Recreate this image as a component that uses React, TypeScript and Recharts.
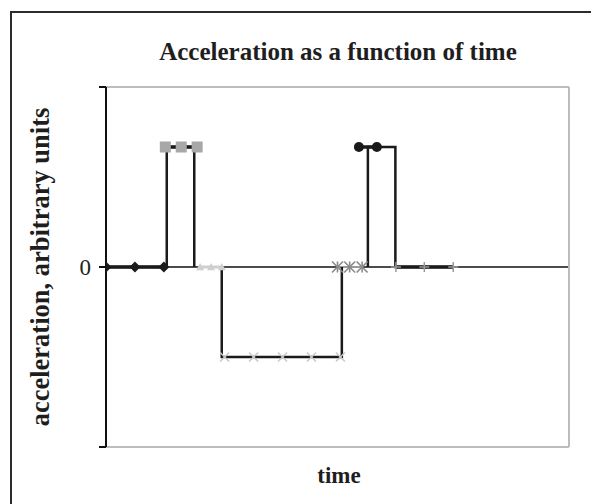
import React from 'react';
import { LineChart, Line, XAxis, YAxis, ReferenceLine } from 'recharts';

// time positions and acceleration values of each marker series
const diamondT = [0, 1, 2];
const diamondA = [0, 0, 0];
const squareT = [2.05, 2.6, 3.15];
const squareA = [2, 2, 2];
const triangleT = [3.25, 3.63, 4.0];
const triangleA = [0, 0, 0];
const crossT = [4.1, 5.1, 6.1, 7.1, 8.1];
const crossA = [-1.5, -1.5, -1.5, -1.5, -1.5];
const starT = [8.0, 8.42, 8.85];
const starA = [0, 0, 0];
const circleT = [8.74, 9.36];
const circleA = [2, 2];
const plusT = [10.02, 11.0, 12.0];
const plusA = [0, 0, 0];

// the step trace of acceleration vs time
const traceT = [0, 2.1, 2.1, 3.05, 3.05, 3.5, 4, 4, 8.15, 8.15, 8.6, 9.05, 9.05, 10, 10, 12];
const traceA: (number | null)[] = [0, 0, 2, 2, 0, null, 0, -1.5, -1.5, 0, null, 0, 2, 2, 0, 0];

const yTicks = [-3, 0, 3];
const xDomain = [0, 16];
const yDomain = [-3, 3];

const zip = (t: number[], a: (number | null)[]) => t.map((v, i) => ({ t: v, a: a[i] }));

const mk = (kind: string, color: string, size: number) => (p: any) => {
  const { cx, cy, index } = p;
  const k = `${kind}-${index}`;
  if (cx == null || cy == null) return <g key={k} />;
  const s = size / 2;
  switch (kind) {
    case 'diamond':
      return <polygon key={k} points={`${cx},${cy - s} ${cx + s},${cy} ${cx},${cy + s} ${cx - s},${cy}`} fill={color} />;
    case 'square':
      return <rect key={k} x={cx - s} y={cy - s} width={size} height={size} fill={color} />;
    case 'triangle':
      return <polygon key={k} points={`${cx},${cy - s} ${cx + s},${cy + s * 0.8} ${cx - s},${cy + s * 0.8}`} fill={color} />;
    case 'x':
      return (
        <g key={k} stroke={color} strokeWidth={1.5}>
          <line x1={cx - s} y1={cy - s} x2={cx + s} y2={cy + s} />
          <line x1={cx - s} y1={cy + s} x2={cx + s} y2={cy - s} />
        </g>
      );
    case 'star':
      return (
        <g key={k} stroke={color} strokeWidth={1.6}>
          <line x1={cx - s} y1={cy - s} x2={cx + s} y2={cy + s} />
          <line x1={cx - s} y1={cy + s} x2={cx + s} y2={cy - s} />
          <line x1={cx} y1={cy - s} x2={cx} y2={cy + s} />
        </g>
      );
    case 'circle':
      return <circle key={k} cx={cx} cy={cy} r={s} fill={color} />;
    case 'plus':
      return (
        <g key={k} stroke={color} strokeWidth={1.5}>
          <line x1={cx - s} y1={cy} x2={cx + s} y2={cy} />
          <line x1={cx} y1={cy - s} x2={cx} y2={cy + s} />
        </g>
      );
    default:
      return <g key={k} />;
  }
};

const serif = '"Liberation Serif", "Times New Roman", serif';

export default function App() {
  return (
    <div style={{ position: 'relative', width: 591, height: 496, overflow: 'hidden', fontFamily: serif }}>
      <div style={{ position: 'absolute', left: 2, top: 3, width: 600, height: 520, borderLeft: '2px solid #2b2b2b', borderTop: '2px solid #2b2b2b', boxSizing: 'border-box' }} />
      <div style={{ position: 'absolute', left: 0, width: 660, top: 30, textAlign: 'center', fontSize: 25, fontWeight: 'bold', color: '#1e1e1e', lineHeight: '28px' }}>
        Acceleration as a function of time
      </div>
      <div style={{ position: 'absolute', left: 331 - 100, width: 200, top: 454, textAlign: 'center', fontSize: 23, fontWeight: 'bold', color: '#1e1e1e', lineHeight: '28px' }}>
        time
      </div>
      <div style={{ position: 'absolute', left: 32 - 200, top: 259 - 14, width: 400, textAlign: 'center', fontSize: 26.5, fontWeight: 'bold', color: '#1e1e1e', lineHeight: '28px', transform: 'rotate(-90deg)' }}>
        acceleration, arbitrary units
      </div>
      <div style={{ position: 'absolute', left: 0, top: 0 }}>
        <LineChart width={591} height={496} margin={{ top: 0, right: 0, bottom: 0, left: 0 }}>
          <XAxis dataKey="t" type="number" domain={xDomain} allowDataOverflow height={57} tick={false} tickLine={false} axisLine={{ stroke: '#bdbdbd', strokeWidth: 2 }} />
          <XAxis xAxisId="top" orientation="top" type="number" domain={xDomain} height={79} tick={false} tickLine={false} axisLine={{ stroke: '#bdbdbd', strokeWidth: 2 }} />
          <YAxis yAxisId="right" orientation="right" type="number" domain={[0, 1]} width={30} tick={false} tickLine={false} axisLine={{ stroke: '#bdbdbd', strokeWidth: 2 }} />
          <YAxis type="number" domain={yDomain} ticks={yTicks} width={98} interval={0}
            tickFormatter={(v: number) => (v === 0 ? '0' : '')}
            tick={{ fill: '#222', fontSize: 23, fontFamily: serif }}
            tickSize={7} tickMargin={8}
            tickLine={{ stroke: '#111', strokeWidth: 2 }}
            axisLine={{ stroke: '#111', strokeWidth: 2 }} />
          <ReferenceLine y={0} stroke="#111" strokeWidth={1.5} />
          <Line data={zip(triangleT, triangleA)} dataKey="a" stroke="#cfcfcf" strokeWidth={3} dot={mk('triangle', '#cfcfcf', 8)} activeDot={false} isAnimationActive={false} />
          <Line data={zip(starT, starA)} dataKey="a" stroke="#9a9a9a" strokeWidth={2} dot={mk('star', '#8a8a8a', 11)} activeDot={false} isAnimationActive={false} />
          <Line data={zip(squareT, squareA)} dataKey="a" stroke="none" dot={mk('square', '#a8a8a8', 11)} activeDot={false} isAnimationActive={false} />
          <Line data={zip(traceT, traceA)} dataKey="a" stroke="#1a1a1a" strokeWidth={2.5} dot={false} connectNulls={false} activeDot={false} isAnimationActive={false} />
          <Line data={zip(crossT, crossA)} dataKey="a" stroke="none" dot={mk('x', '#c8c8c8', 9)} activeDot={false} isAnimationActive={false} />
          <Line data={zip(squareT, squareA)} dataKey="a" stroke="#1a1a1a" strokeWidth={3.5} dot={false} activeDot={false} isAnimationActive={false} />
          <Line data={zip(diamondT, diamondA)} dataKey="a" stroke="#1a1a1a" strokeWidth={3.5} dot={mk('diamond', '#1a1a1a', 11)} activeDot={false} isAnimationActive={false} />
          <Line data={zip(circleT, circleA)} dataKey="a" stroke="#1a1a1a" strokeWidth={3.5} dot={mk('circle', '#1a1a1a', 10)} activeDot={false} isAnimationActive={false} />
          <Line data={zip(plusT, plusA)} dataKey="a" stroke="#1a1a1a" strokeWidth={3.5} dot={mk('plus', '#9a9a9a', 10)} activeDot={false} isAnimationActive={false} />
        </LineChart>
      </div>
    </div>
  );
}
